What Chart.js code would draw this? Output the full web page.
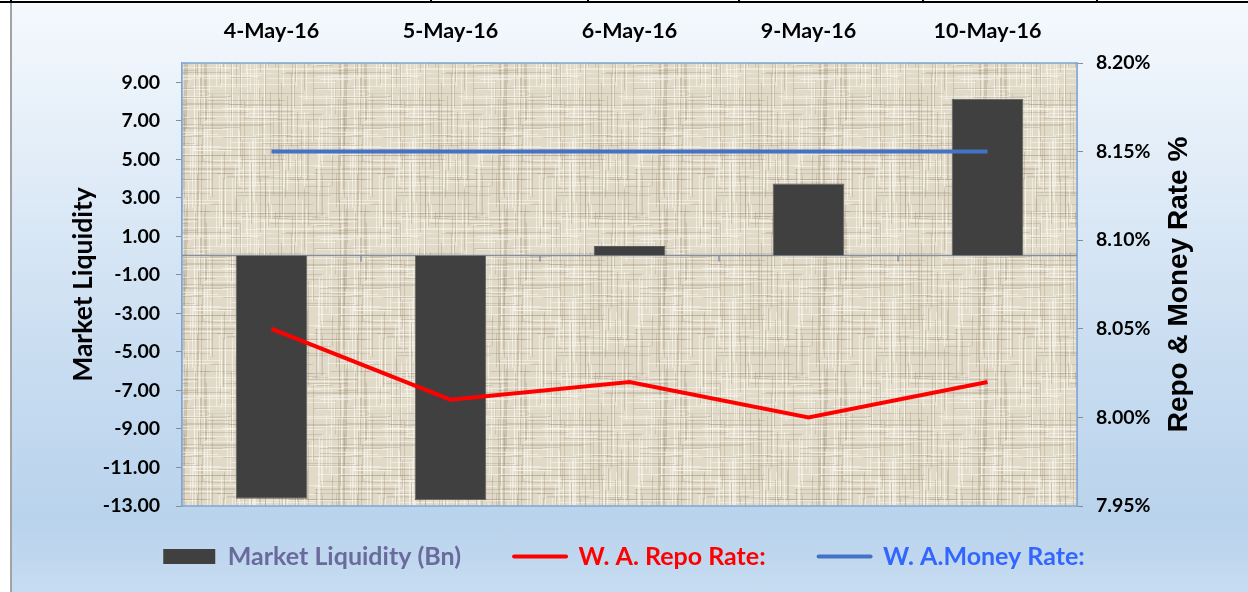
<!DOCTYPE html>
<html>
<head>
<meta charset="utf-8">
<script src="https://cdn.jsdelivr.net/npm/chart.js@4/dist/chart.umd.min.js"></script>
<style>
  html, body { margin: 0; padding: 0; background: #fff; }
  body { width: 1248px; height: 592px; position: relative; overflow: hidden; }
  #frame {
    position: absolute; left: 10px; top: 3px; right: 0; bottom: 0;
    border-left: 2px solid #a3a3a3;
    background: linear-gradient(to bottom, #f5f9fd 0%, #dfebf7 30%, #c9ddf1 60%, #b9d3ec 88%, #c6dcf1 100%);
  }
  #topline { position: absolute; left: 0; right: 0; top: 1px; height: 2px; background: #000; }
  .seg { position: absolute; top: 0; width: 2px; height: 3px; background: #000; }
  #chart { position: absolute; left: 0; top: 0; }
</style>
</head>
<body>
<div id="frame"></div>
<div id="topline"></div>
<div class="seg" style="left:10px"></div>
<div class="seg" style="left:430px"></div>
<div class="seg" style="left:587px"></div>
<div class="seg" style="left:738px"></div>
<div class="seg" style="left:922px"></div>
<div class="seg" style="left:1096px"></div>
<canvas id="chart" width="1248" height="592"></canvas>
<script>
// --- data ---
const categories = ['4-May-16', '5-May-16', '6-May-16', '9-May-16', '10-May-16'];
const liquidity = [-12.62, -12.7, 0.5, 3.75, 8.15];     // Bn
const repoRate = [8.05, 8.01, 8.02, 8.00, 8.02];        // %
const moneyRate = [8.15, 8.15, 8.15, 8.15, 8.15];       // %
const liquidityTicks = [-13, -11, -9, -7, -5, -3, -1, 1, 3, 5, 7, 9];
const rateTicks = [7.95, 8.00, 8.05, 8.10, 8.15, 8.20];

const FONT = 'Lato, "Open Sans", sans-serif';
const legendTextColors = ['#6a6a9c', '#ff0000', '#3366ff'];

// linen texture for the plot area (fixed hash, only decoration)
function linenPattern(ctx) {
  const size = 160;
  const c = document.createElement('canvas');
  c.width = size; c.height = size;
  const g = c.getContext('2d');
  g.fillStyle = '#e2dac9';
  g.fillRect(0, 0, size, size);
  const h = n => { const s = Math.sin(n * 12.9898) * 43758.5453; return s - Math.floor(s); };
  for (let i = 0; i < size; i++) {
    for (let k = 0; k < 2; k++) {
      const a = h(i * 3 + k * 777 + 1);
      if (a < 0.4) {
        const light = h(i * 7 + k * 131 + 5) < 0.55;
        g.fillStyle = light ? 'rgba(250,247,238,0.6)' : 'rgba(150,136,110,0.3)';
        const p0 = Math.floor(h(i * 11 + k * 53 + 9) * size);
        const len = 15 + h(i * 13 + k * 17 + 3) * 90;
        // vertical thread
        g.fillRect(i, p0, 1, len);
        g.fillRect(i, p0 - size, 1, len);
      }
      const b = h(i * 5 + k * 919 + 2);
      if (b < 0.4) {
        const light = h(i * 9 + k * 71 + 4) < 0.55;
        g.fillStyle = light ? 'rgba(250,247,238,0.55)' : 'rgba(150,136,110,0.28)';
        const p0 = Math.floor(h(i * 19 + k * 29 + 8) * size);
        const len = 15 + h(i * 23 + k * 37 + 6) * 90;
        g.fillRect(p0, i, len, 1);
        g.fillRect(p0 - size, i, len, 1);
      }
    }
  }
  return ctx.createPattern(c, 'repeat');
}

const plotBackground = {
  id: 'plotBackground',
  beforeDatasetsDraw(chart) {
    const { ctx, chartArea: a, scales } = chart;
    ctx.save();
    ctx.fillStyle = linenPattern(ctx);
    ctx.fillRect(a.left, a.top, a.right - a.left, a.bottom - a.top);
    ctx.strokeStyle = '#7ea6d6';
    ctx.lineWidth = 1.5;
    ctx.strokeRect(a.left, a.top, a.right - a.left, a.bottom - a.top);
    // category axis crossing at zero
    const y0 = scales.y.getPixelForValue(0);
    ctx.strokeStyle = '#85909c';
    ctx.lineWidth = 1.5;
    ctx.beginPath();
    ctx.moveTo(a.left, y0);
    ctx.lineTo(a.right, y0);
    const x = scales.x;
    for (let i = 1; i < categories.length; i++) {
      const bx = (x.getPixelForValue(i - 1) + x.getPixelForValue(i)) / 2;
      ctx.moveTo(bx, y0);
      ctx.lineTo(bx, y0 + 6);
    }
    ctx.stroke();
    ctx.restore();
  }
};

const rightTitle = {
  id: 'rightTitle',
  afterDraw(chart) {
    const { ctx, chartArea: a, scales } = chart;
    ctx.save();
    ctx.translate(scales.y1.right - 69, (a.top + a.bottom) / 2);
    ctx.rotate(-Math.PI / 2);
    ctx.font = 'bold 28px "Liberation Sans", Arial, sans-serif';
    ctx.fillStyle = '#000';
    ctx.textAlign = 'center';
    ctx.textBaseline = 'middle';
    ctx.fillText('Repo & Money Rate %', 0, 0);
    ctx.restore();
  }
};

// labels.padding also pads the row vertically, so pull the legend row up a bit
const legendLift = {
  id: 'legendLift',
  afterLayout(chart) {
    chart.legend.top -= 15;
    chart.legend.bottom -= 15;
  }
};

new Chart(document.getElementById('chart'), {
  data: {
    labels: categories,
    datasets: [
      {
        type: 'bar',
        label: 'Market Liquidity (Bn)',
        data: liquidity,
        yAxisID: 'y',
        backgroundColor: '#404040',
        borderColor: '#5c5c5c',
        borderWidth: 1,
        barPercentage: 0.4,
        categoryPercentage: 1.0,
        order: 1
      },
      {
        type: 'line',
        label: 'W. A. Repo Rate:',
        data: repoRate,
        yAxisID: 'y1',
        borderColor: '#ff0000',
        borderWidth: 4,
        pointRadius: 0,
        tension: 0,
        order: 0
      },
      {
        type: 'line',
        label: 'W. A.Money Rate:',
        data: moneyRate,
        yAxisID: 'y1',
        borderColor: '#4472c4',
        borderWidth: 4,
        pointRadius: 0,
        tension: 0,
        order: 0
      }
    ]
  },
  options: {
    responsive: false,
    animation: false,
    layout: { padding: { left: 0, right: 0, top: 0, bottom: 0 } },
    plugins: {
      tooltip: { enabled: false },
      legend: {
        position: 'bottom',
        maxHeight: 86,
        labels: {
          usePointStyle: true,
          pointStyleWidth: 52,
          boxHeight: 15,
          padding: 53,
          font: { family: FONT, size: 25, weight: 'bold' },
          sort: (a, b) => a.datasetIndex - b.datasetIndex,
          generateLabels(chart) {
            const items = Chart.defaults.plugins.legend.labels.generateLabels(chart);
            items.forEach(it => {
              const ds = chart.data.datasets[it.datasetIndex];
              it.fontColor = legendTextColors[it.datasetIndex];
              if (ds.type === 'line') {
                it.pointStyle = 'line';
                it.lineWidth = 4;
                it.strokeStyle = ds.borderColor;
                it.lineCap = 'round';
              } else {
                it.pointStyle = 'rect';
                it.lineWidth = 0;
                it.fillStyle = ds.backgroundColor;
              }
            });
            return items;
          }
        }
      }
    },
    scales: {
      x: {
        position: 'top',
        offset: true,
        grid: { display: false, drawTicks: false },
        border: { display: false },
        ticks: { color: '#000', padding: 19, font: { family: FONT, size: 21.5, weight: 'bold' } },
        afterFit(s) { s.height = 63; }
      },
      y: {
        position: 'left',
        min: -13,
        max: 10,
        afterBuildTicks(s) { s.ticks = liquidityTicks.map(v => ({ value: v })); },
        grid: { drawOnChartArea: false, tickLength: 6, color: '#8c8c8c' },
        border: { color: '#7ea6d6', width: 1.5 },
        ticks: {
          color: '#000',
          padding: 16,
          font: { family: FONT, size: 19.5, weight: 'bold' },
          callback: v => v.toFixed(2)
        },
        title: {
          display: true,
          text: 'Market Liquidity',
          color: '#000',
          font: { family: FONT, size: 26.5, weight: 'bold' },
          padding: { top: 68, bottom: 0 }
        },
        afterFit(s) { s.width = 182; }
      },
      y1: {
        position: 'right',
        min: 7.95,
        max: 8.20,
        afterBuildTicks(s) { s.ticks = rateTicks.map(v => ({ value: v })); },
        grid: { drawOnChartArea: false, tickLength: 6, color: '#8c8c8c' },
        border: { color: '#7ea6d6', width: 1.5 },
        ticks: {
          color: '#000',
          padding: 13,
          font: { family: FONT, size: 19.5, weight: 'bold' },
          callback: v => v.toFixed(2) + '%'
        },
        afterFit(s) { s.width = 171; }
      }
    }
  },
  plugins: [plotBackground, rightTitle, legendLift]
});
</script>
</body>
</html>
